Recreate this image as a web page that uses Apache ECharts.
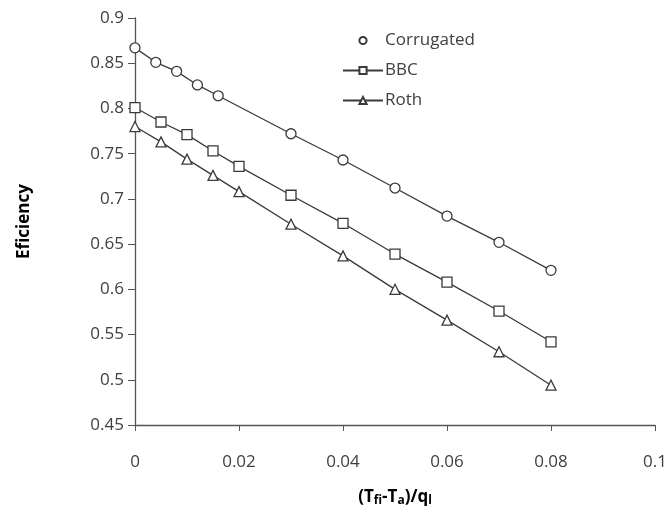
<!DOCTYPE html>
<html>
<head>
<meta charset="utf-8">
<script src="https://cdn.jsdelivr.net/npm/echarts@6/dist/echarts.min.js"></script>
<style>
  html, body { margin: 0; padding: 0; background: #fff; }
  #chart { width: 669px; height: 509px; }
</style>
</head>
<body>
<div id="chart"></div>
<script>
// values
const corrugatedX = [0, 0.004, 0.008, 0.012, 0.016, 0.03, 0.04, 0.05, 0.06, 0.07, 0.08];
const corrugatedY = [0.867, 0.851, 0.841, 0.826, 0.814, 0.772, 0.743, 0.712, 0.681, 0.652, 0.621];
const bbcX = [0, 0.005, 0.01, 0.015, 0.02, 0.03, 0.04, 0.05, 0.06, 0.07, 0.08];
const bbcY = [0.801, 0.785, 0.771, 0.753, 0.736, 0.704, 0.673, 0.639, 0.608, 0.576, 0.542];
const rothX = [0, 0.005, 0.01, 0.015, 0.02, 0.03, 0.04, 0.05, 0.06, 0.07, 0.08];
const rothY = [0.780, 0.763, 0.744, 0.726, 0.708, 0.672, 0.637, 0.600, 0.566, 0.531, 0.494];

const FONT = 'Open Sans';
const LINE = '#3a3a3a';

const zip = (xs, ys) => xs.map((x, i) => [x, ys[i]]);

function makeSeries(name, symbol, xs, ys) {
    return {
        name: name,
        type: 'line',
        data: zip(xs, ys),
        symbol: symbol,
        symbolSize: 10,
        showSymbol: true,
        lineStyle: { color: LINE, width: 1.3 },
        itemStyle: { color: '#fff', borderColor: LINE, borderWidth: 1.3 },
        emphasis: { disabled: true },
        z: 3
    };
}

const chart = echarts.init(document.getElementById('chart'));

const tickFmt = v => String(parseFloat(v.toFixed(3)));

chart.setOption({
    animation: false,
    backgroundColor: '#fff',
    grid: { left: 135, right: 14, top: 18, bottom: 84, containLabel: false, outerBoundsMode: 'none' },
    legend: {
        orient: 'vertical',
        left: 337,
        top: 27,
        itemWidth: 40,
        itemHeight: 9,
        itemGap: 13,
        textStyle: { fontFamily: FONT, fontSize: 17, color: '#404040', padding: [0, 0, 0, -3] },
        data: [
            { name: 'Corrugated', lineStyle: { opacity: 0 }, itemStyle: { color: '#fff', borderColor: LINE } },
            { name: 'BBC' },
            { name: 'Roth' }
        ]
    },
    xAxis: {
        type: 'value',
        min: 0,
        max: 0.1,
        interval: 0.02,
        name: '{b|(T}{s|fi}{b|-T}{s|a}{b|)/q}{s|l}',
        nameLocation: 'middle',
        nameGap: 62,
        nameTextStyle: {
            rich: {
                b: { fontFamily: FONT, fontSize: 17, fontWeight: 'bold', color: '#000' },
                s: { fontFamily: FONT, fontSize: 12, fontWeight: 'bold', color: '#000', verticalAlign: 'bottom', padding: [8, 0, 0, 0] }
            }
        },
        axisLine: { lineStyle: { color: '#555', width: 1.3 } },
        axisTick: { show: true, inside: false, length: 6, lineStyle: { color: '#555' } },
        axisLabel: { fontFamily: FONT, fontSize: 17, color: '#404040', margin: 29, formatter: tickFmt },
        splitLine: { show: false }
    },
    yAxis: {
        type: 'value',
        min: 0.45,
        max: 0.9,
        interval: 0.05,
        name: 'Eficiency',
        nameLocation: 'middle',
        nameGap: 102,
        nameTextStyle: { fontFamily: FONT, fontSize: 17, fontWeight: 'bold', color: '#000' },
        axisLine: { show: true, lineStyle: { color: '#555', width: 1.3 } },
        axisTick: { show: true, inside: false, length: 7, lineStyle: { color: '#555' } },
        axisLabel: { fontFamily: FONT, fontSize: 17, color: '#404040', margin: 11, formatter: tickFmt },
        splitLine: { show: false }
    },
    series: [
        makeSeries('Corrugated', 'circle', corrugatedX, corrugatedY),
        makeSeries('BBC', 'rect', bbcX, bbcY),
        makeSeries('Roth', 'triangle', rothX, rothY)
    ]
});
</script>
</body>
</html>
